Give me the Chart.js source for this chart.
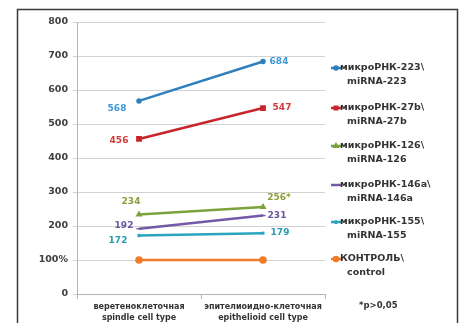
<!DOCTYPE html>
<html>
<head>
<meta charset="utf-8">
<script src="https://cdn.jsdelivr.net/npm/chart.js@4/dist/chart.umd.min.js"></script>
<style>
  body { margin: 0; background: #fff; }
  canvas { display: block; }
</style>
</head>
<body>
<canvas id="chart" width="465" height="323"></canvas>
<script>
// cell types on the x axis (russian / english)
const categories = [
  ["веретеноклеточная", "spindle cell type"],
  ["эпителиоидно-клеточная", "epithelioid cell type"]
];

// expression levels, control = 100%
const mir223 = [568, 684];
const mir27b = [456, 547];
const mir126 = [234, 256];
const mir146a = [192, 231];
const mir155 = [172, 179];
const control = [100, 100];

// significance marks appended to value labels
const mir126Marks = ["", "*"];

const seriesNames = [
  ["микроРНК-223\\", "miRNA-223"],
  ["микроРНК-27b\\", "miRNA-27b"],
  ["микроРНК-126\\", "miRNA-126"],
  ["микроРНК-146a\\", "miRNA-146a"],
  ["микроРНК-155\\", "miRNA-155"],
  ["КОНТРОЛЬ\\", "control"]
];

const yTicks = { min: 0, max: 800, step: 100 };
const footnote = "*p>0,05";

const FONT = "'DejaVu Sans', sans-serif";

function series(i, data, color, labelColor, style, radius, labelPos, marks) {
  return {
    label: seriesNames[i].join(" "),
    data: data,
    borderColor: color,
    backgroundColor: color,
    borderWidth: 2.5,
    pointStyle: style,
    pointRadius: radius,
    pointBorderWidth: 1.5,
    tension: 0,
    labelColor: labelColor,
    labelPos: labelPos,
    marks: marks || null
  };
}

// label offsets relative to each point: [dx, dy] for first and second category
const datasets = [
  series(0, mir223, "#2f7fbd", "#3b97d3", "circle", 2, [[-22, 8], [16, 0]]),
  series(1, mir27b, "#c8262c", "#d23a3a", "rect", 3, [[-20, 2], [19, 0]]),
  series(2, mir126, "#7aa23c", "#8f9c3c", "triangle", 2.5, [[-8, -13], [16, -9]], mir126Marks),
  series(3, mir146a, "#7558a8", "#6a55a0", "line", 2.5, [[-15, -3], [14, 0]]),
  series(4, mir155, "#2aa5bf", "#2a9db0", "crossRot", 2, [[-21, 5], [17, 0]]),
  series(5, control, "#f07b28", null, "circle", 3, null)
];

const decorations = {
  id: "decorations",
  beforeDraw(chart) {
    const ctx = chart.ctx;
    ctx.save();
    ctx.strokeStyle = "#3a3a3a";
    ctx.lineWidth = 1.5;
    ctx.strokeRect(17.5, 9.5, 440, 340);
    ctx.restore();
  },
  afterDatasetsDraw(chart) {
    const ctx = chart.ctx;
    ctx.save();
    ctx.font = "bold 9px " + FONT;
    ctx.textAlign = "center";
    ctx.textBaseline = "middle";
    chart.data.datasets.forEach((ds, i) => {
      if (!ds.labelPos) return;
      const meta = chart.getDatasetMeta(i);
      meta.data.forEach((pt, j) => {
        const [dx, dy] = ds.labelPos[j];
        const text = ds.data[j] + (ds.marks ? ds.marks[j] : "");
        ctx.fillStyle = ds.labelColor;
        ctx.fillText(text, pt.x + dx, pt.y + dy);
      });
    });

    // legend on the right
    const rowY = [68, 108, 146, 185, 222, 259];
    chart.data.datasets.forEach((ds, i) => {
      const y = rowY[i];
      ctx.strokeStyle = ds.borderColor;
      ctx.lineWidth = 2.5;
      ctx.beginPath();
      ctx.moveTo(331, y);
      ctx.lineTo(341, y);
      ctx.stroke();
      if (ds.pointStyle !== "line") {
        ctx.fillStyle = ds.borderColor;
        ctx.lineWidth = 1.5;
        Chart.helpers.drawPoint(ctx, {
          pointStyle: ds.pointStyle,
          radius: Math.min(ds.pointRadius, 2.5),
          borderWidth: 1.5,
          rotation: 0
        }, 336, y);
      }
      ctx.fillStyle = "#333";
      ctx.textAlign = "left";
      ctx.font = "bold 9.5px " + FONT;
      ctx.fillText(seriesNames[i][0], 340, y);
      ctx.fillText(seriesNames[i][1], 347, y + 14);
    });

    ctx.font = "bold 8.5px " + FONT;
    ctx.fillStyle = "#333";
    ctx.fillText(footnote, 359, 306);
    ctx.restore();
  }
};

new Chart(document.getElementById("chart"), {
  type: "line",
  data: { labels: categories, datasets: datasets },
  options: {
    responsive: false,
    animation: false,
    layout: { padding: { top: 22, right: 140, bottom: 0, left: 0 } },
    plugins: { legend: { display: false }, tooltip: { enabled: false } },
    scales: {
      x: {
        offset: true,
        afterFit(scale) { scale.height = 29; },
        grid: { offset: true, drawOnChartArea: false, tickLength: 5, color: "#b5b5b5" },
        border: { color: "#b5b5b5" },
        ticks: {
          color: "#333",
          padding: 2,
          maxRotation: 0,
          font: { family: FONT, size: 8, weight: "bold", lineHeight: 1.4 }
        }
      },
      y: {
        min: yTicks.min,
        max: yTicks.max,
        afterFit(scale) { scale.width = 77; },
        grid: { color: "#d2d2d2", tickLength: 4 },
        border: { color: "#b5b5b5" },
        ticks: {
          stepSize: yTicks.step,
          padding: 5,
          color: "#404040",
          font: { family: FONT, size: 9.5, weight: "bold" },
          callback: v => (v === 100 ? "100%" : v)
        }
      }
    }
  },
  plugins: [decorations]
});
</script>
</body>
</html>
